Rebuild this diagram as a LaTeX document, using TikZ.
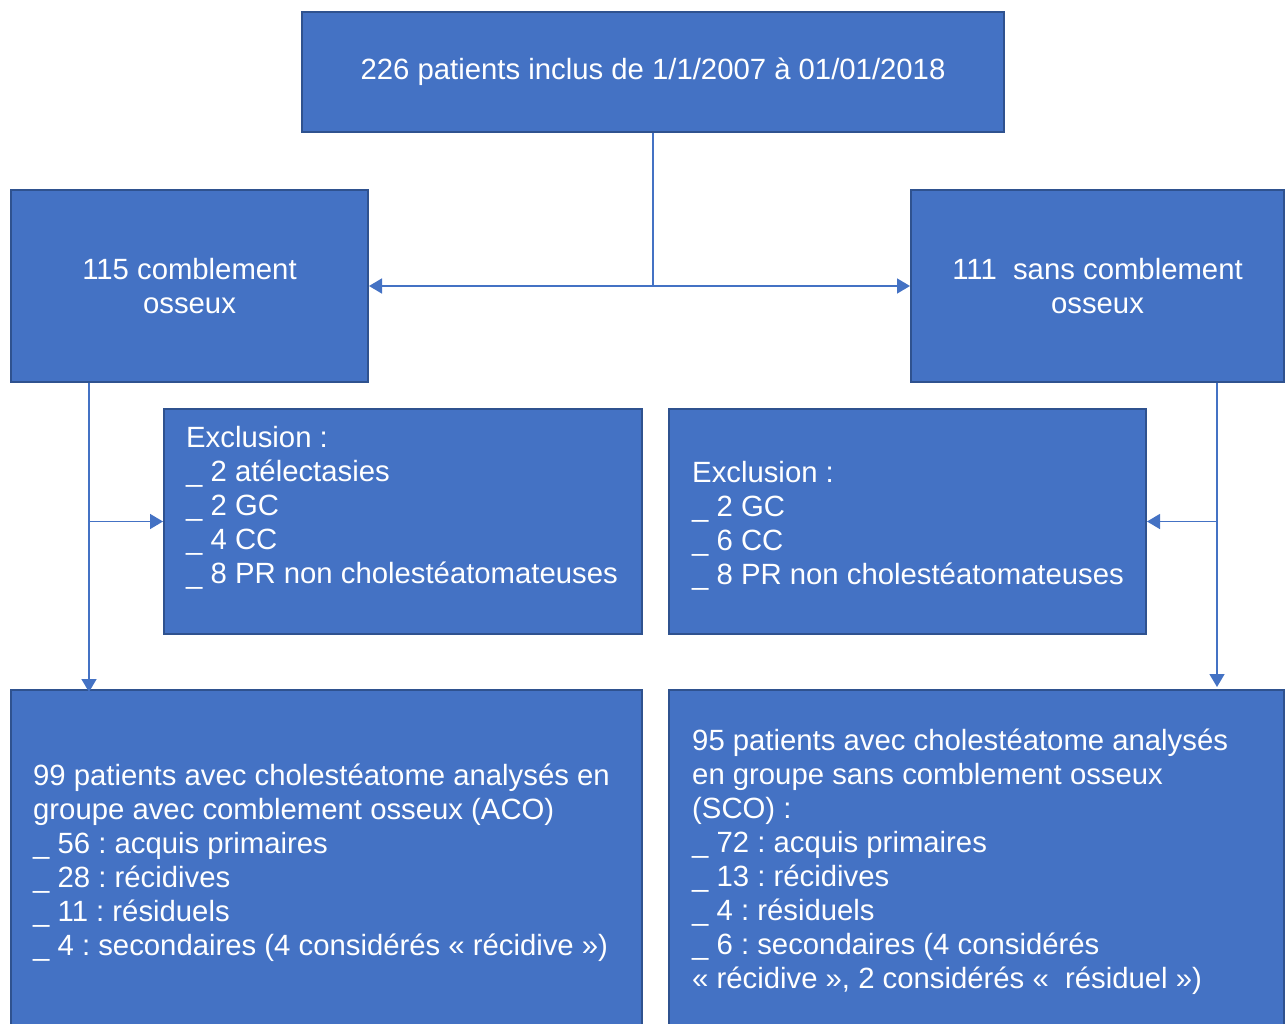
\documentclass[tikz,border=0pt]{standalone}
\usepackage{fontspec}
\setmainfont{Liberation Sans}
\frenchspacing
\usetikzlibrary{arrows.meta,positioning}
\definecolor{boxfill}{HTML}{4472C4}
\definecolor{boxline}{HTML}{2F528F}
\definecolor{linkcol}{HTML}{4472C4}
\tikzset{
  box/.style={draw=boxline, fill=boxfill, line width=2pt, rectangle, inner sep=0pt,
    text=white, align=center, font=\fontsize{29.3}{34}\selectfont},
  boxtext/.style={text=white, align=left, anchor=north west, inner sep=0pt,
    font=\fontsize{29.3}{34}\selectfont},
  link/.style={draw=linkcol, line width=1.6pt},
  arrowed/.style={link, -{Triangle[width=15pt,length=13pt]}}
}
\begin{document}
\begin{tikzpicture}[x=1pt,y=-1pt]
        \useasboundingbox (0,0) rectangle (1287,1024);

        % Boxes
        \node[box, minimum width=702, minimum height=120] (start) at (653,72)
          {226 patients inclus de 1/1/2007 à 01/01/2018};
        \node[box, minimum width=357, minimum height=192] (aco) at (189.5,286)
          {115 comblement\\osseux};
        \node[box, minimum width=373, minimum height=192] (sco) at (1097.5,286)
          {111\ \ sans comblement\\osseux};
        \node[box, minimum width=478, minimum height=225] (acoexcl) at (403,521.5) {};
        \node[box, minimum width=477, minimum height=225] (scoexcl) at (907.5,521.5) {};
        \node[box, minimum width=631, minimum height=350] (acofinal) at (326.5,865) {};
        \node[box, minimum width=615, minimum height=350] (scofinal) at (976.5,865) {};

        % Texts in the boxes
        \node[boxtext] (acoexcltext) at (186,426)
          {Exclusion :\\\_ 2 atélectasies\\\_ 2 GC\\\_ 4 CC\\\_ 8 PR non cholestéatomateuses};
        \node[boxtext] (scoexcltext) at (692,461)
          {Exclusion :\\\_ 2 GC\\\_ 6 CC\\\_ 8 PR non cholestéatomateuses};
        \node[boxtext] (acofinaltext) at (33,764)
          {99 patients avec cholestéatome analysés en\\
           groupe avec comblement osseux (ACO)\\
           \_ 56 : acquis primaires\\
           \_ 28 : récidives\\
           \_ 11 : résiduels\\
           \_ 4 : secondaires (4 considérés « récidive »)};
        \node[boxtext] (scofinaltext) at (692,729)
          {95 patients avec cholestéatome analysés\\
           en groupe sans comblement osseux\\
           (SCO) :\\
           \_ 72 : acquis primaires\\
           \_ 13 : récidives\\
           \_ 4 : résiduels\\
           \_ 6 : secondaires (4 considérés\\
           « récidive », 2 considérés «\ \ résiduel »)};

        % Split of the cohort
        \draw[link] (start.south) -- (start.south |- aco.east) coordinate (split);
        \draw[arrowed] (split) -- (aco.east);
        \draw[arrowed] (split) -- (sco.west);

        % Left branch
        \coordinate (acostem) at ([xshift=79]aco.south west);
        \draw[arrowed] (acostem) -- ([yshift=-3]acostem |- acofinal.north);
        \draw[arrowed] (acostem |- acoexcl.west) -- (acoexcl.west);

        % Right branch
        \coordinate (scostem) at ([xshift=-68]sco.south east);
        \draw[arrowed] (scostem) -- ([yshift=2]scostem |- scofinal.north);
        \draw[arrowed] (scostem |- scoexcl.east) -- (scoexcl.east);
\end{tikzpicture}
\end{document}
